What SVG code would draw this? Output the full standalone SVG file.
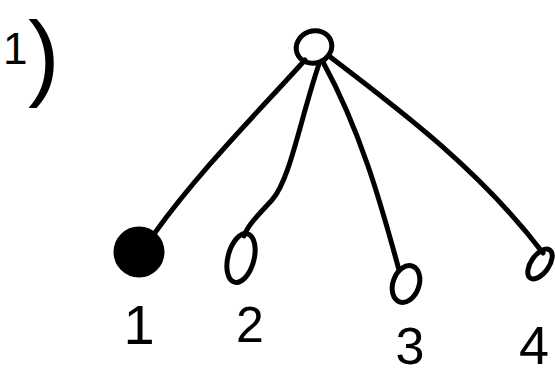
<svg xmlns="http://www.w3.org/2000/svg" width="555" height="376" viewBox="0 0 555 376">
<style>
.n{fill:none;stroke:#000;stroke-width:5}
.f{fill:#000;stroke:#000;stroke-width:5}
.e{fill:none;stroke:#000;stroke-width:5;stroke-linecap:round}
.t{font-family:"Liberation Sans",Arial,sans-serif;fill:#000;text-anchor:middle}
</style>
<rect width="555" height="376" fill="#fff"/>
<text style="font-family:'Liberation Sans',Arial,sans-serif;fill:#000"><tspan x="3" y="64" style="font-size:44px">1</tspan><tspan x="28" y="88" style="font-size:95px">)</tspan></text>
<g id="connectors">
<path class="e" d="M305 60 C260 110 200 170 154 234"/>
<path class="e" d="M319 64 C300 120 290 180 272 200 C258 215 248 225 244 236"/>
<path class="e" d="M323 62 C360 130 380 200 399 270"/>
<path class="e" d="M329 56 C400 110 480 170 543 253"/>
</g>
<g id="root"><ellipse class="n" cx="314" cy="47" rx="18" ry="16" transform="rotate(-20 314 47)"/></g>
<g id="node1"><ellipse class="f" cx="139" cy="252" rx="23" ry="23"/><text class="t" x="139" y="344" style="font-size:56px">1</text></g>
<g id="node2"><ellipse class="n" cx="241" cy="258" rx="13" ry="25" transform="rotate(15 241 258)"/><text class="t" x="250" y="342" style="font-size:50px">2</text></g>
<g id="node3"><ellipse class="n" cx="406" cy="284" rx="13" ry="19" transform="rotate(20 406 284)"/><text class="t" x="410" y="364" style="font-size:52px">3</text></g>
<g id="node4"><ellipse class="n" cx="540" cy="264" rx="9" ry="17" transform="rotate(35 540 264)"/><text class="t" x="534" y="364" style="font-size:54px">4</text></g>
</svg>
